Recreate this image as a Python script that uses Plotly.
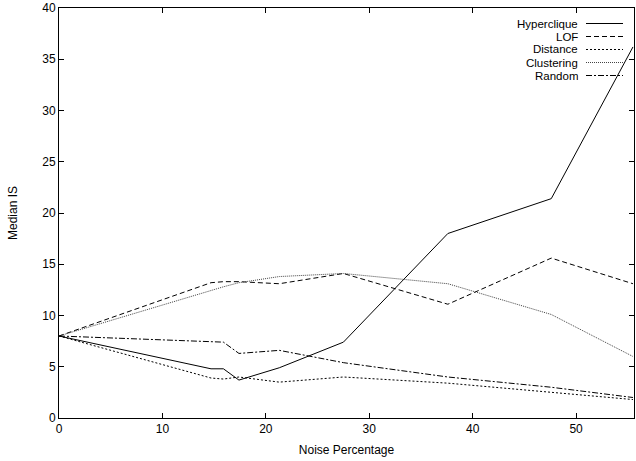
import plotly.graph_objects as go

noise = [0, 14.7, 15.9, 17.4, 21.3, 27.5, 37.6, 47.6, 55.5]
hyperclique = [8, 4.8, 4.8, 3.7, 4.9, 7.4, 18.0, 21.4, 36.2]
lof = [8, 13.2, 13.3, 13.3, 13.1, 14.1, 11.1, 15.6, 13.1]
distance = [8, 3.9, 3.8, 4.0, 3.5, 4.0, 3.4, 2.5, 1.8]
clustering = [8, 12.5, 12.8, 13.2, 13.8, 14.1, 13.1, 10.1, 6.0]
random_ = [8, 7.5, 7.4, 6.3, 6.6, 5.4, 4.0, 3.0, 2.0]

names = ["Hyperclique", "LOF", "Distance", "Clustering", "Random"]
series = [hyperclique, lof, distance, clustering, random_]
dashes = ["solid", "5px,3px", "2px,2px", "1px,1px", "6px,2px,2px,2px"]
colors = ["#000000", "#000000", "#000000", "#444444", "#000000"]

FONT = "Liberation Sans, Arial, Helvetica, sans-serif"
FS = 12
LFS = 11.5

fig = go.Figure()
for n, s, d, c in zip(names, series, dashes, colors):
    fig.add_trace(go.Scatter(x=noise, y=s, mode="lines", name=n,
                             line=dict(color=c, width=1, dash=d),
                             showlegend=False))

# manual legend (text right-aligned, sample line on the right)
W, H = 636, 461
ml, mr, mt, mb = 59, 2, 8, 43
pw, ph = W - ml - mr, H - mt - mb
for i, (n, d, c) in enumerate(zip(names, dashes, colors)):
    ypx = 23.5 + 13 * i
    yp = 1 - (ypx - mt) / ph
    x_text = (579 - ml) / pw
    x0 = (586 - ml) / pw
    x1 = (623 - ml) / pw
    fig.add_annotation(x=x_text, y=yp, xref="paper", yref="paper", text=n,
                       showarrow=False, xanchor="right", yanchor="middle",
                       height=12, borderpad=0, valign="middle",
                       font=dict(family=FONT, size=LFS, color="#000"))
    fig.add_shape(type="line", xref="paper", yref="paper", x0=x0, x1=x1,
                  y0=yp, y1=yp, line=dict(color=c, width=1, dash=d))

axis_common = dict(showline=True, linecolor="#000", linewidth=1, mirror="allticks",
                   ticks="inside", ticklen=5, tickcolor="#000", tickwidth=1,
                   showgrid=False, zeroline=False,
                   tickfont=dict(family=FONT, size=FS, color="#000"))

fig.update_layout(
    width=W, height=H,
    margin=dict(l=ml, r=mr, t=mt, b=mb),
    paper_bgcolor="white", plot_bgcolor="white",
    font=dict(family=FONT, size=FS, color="#000"),
    xaxis=dict(range=[0, 55.6], dtick=10, tick0=0,
               title=dict(text="Noise Percentage", font=dict(family=FONT, size=FS), standoff=10),
               **axis_common),
    yaxis=dict(range=[0, 40], dtick=5, tick0=0,
               title=dict(text="Median IS", font=dict(family=FONT, size=FS), standoff=22),
               **axis_common),
)

fig.write_html("out.html")
